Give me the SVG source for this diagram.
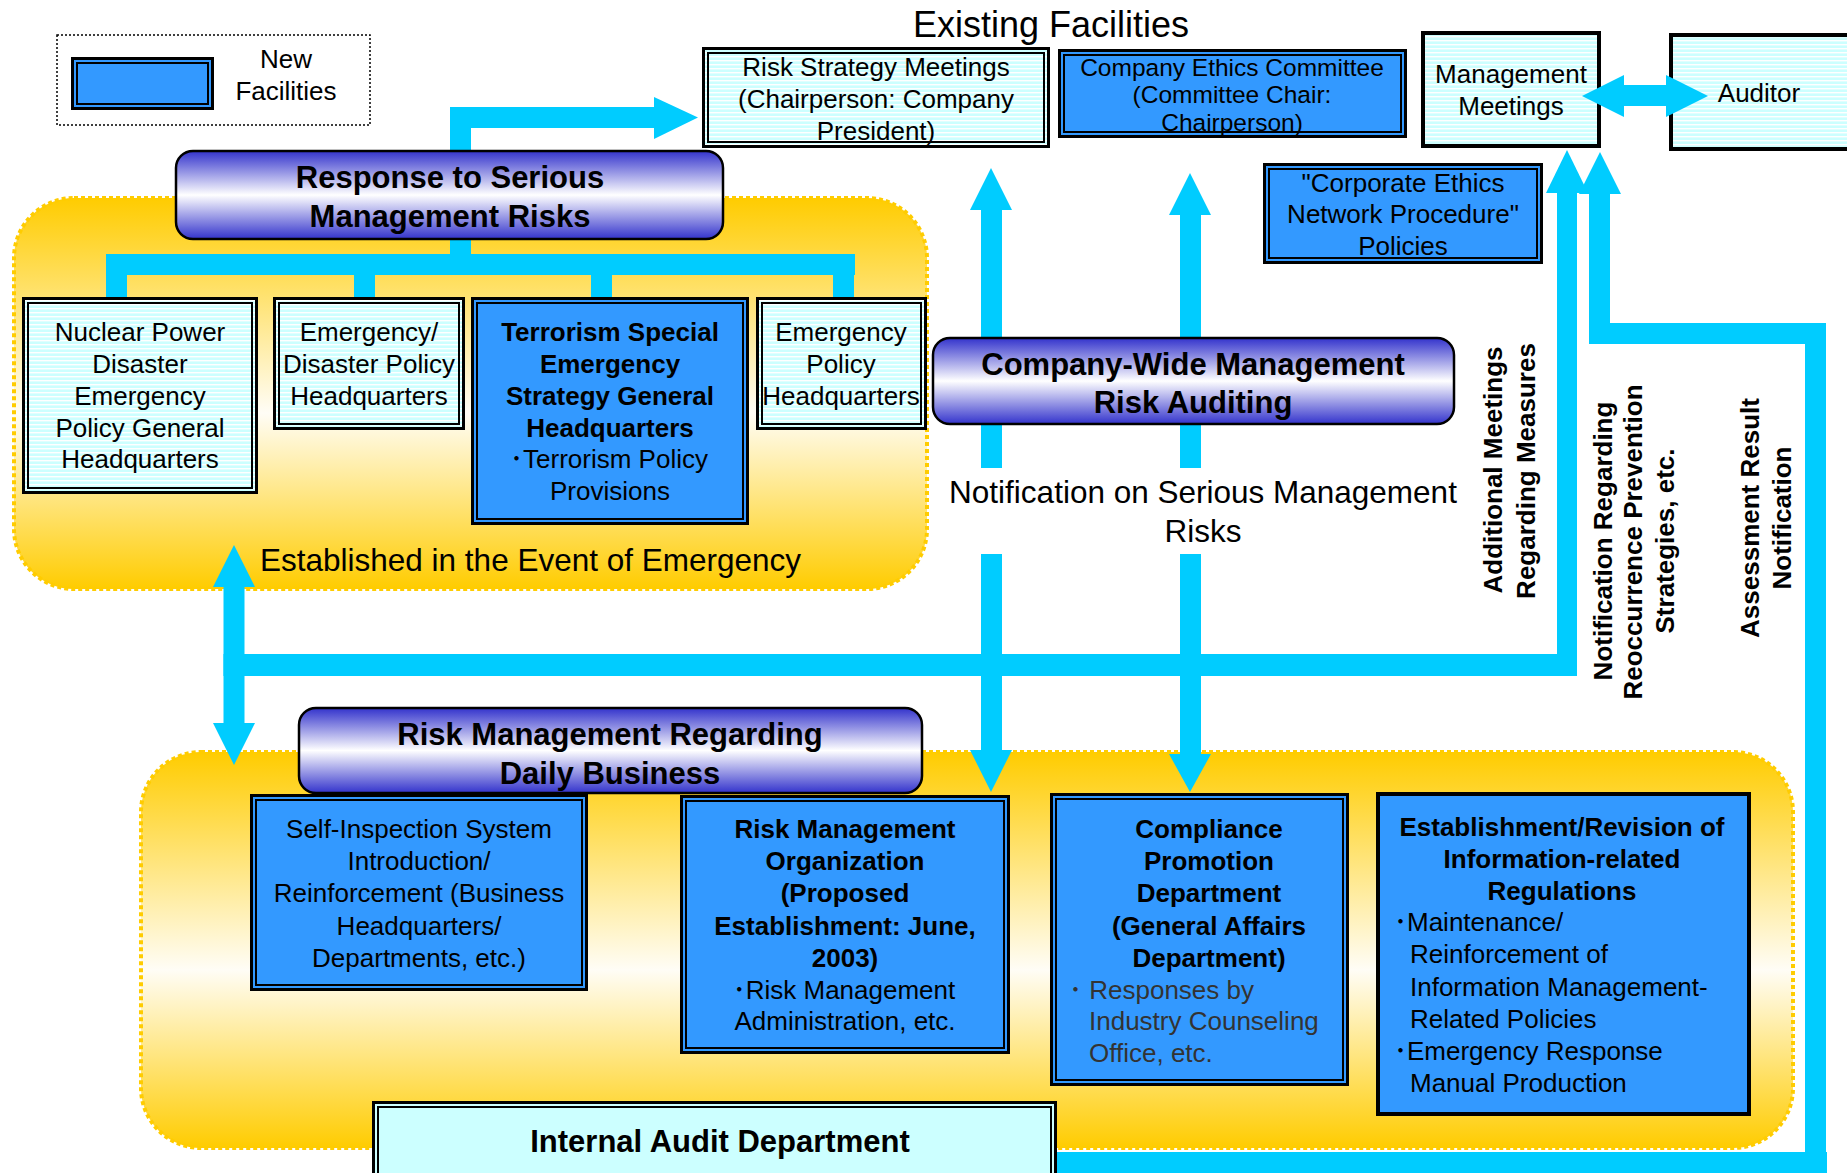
<svg xmlns="http://www.w3.org/2000/svg" width="1847" height="1173" viewBox="0 0 1847 1173">
<defs>
<pattern id="stripes" patternUnits="userSpaceOnUse" width="10" height="4">
<rect width="10" height="4" fill="#CCFFFF"/>
<rect width="10" height="1.4" fill="#FFFFFF"/>
</pattern>
<linearGradient id="banner" x1="0" y1="0" x2="0" y2="1">
<stop offset="0" stop-color="#3333CC"/>
<stop offset="0.5" stop-color="#FFFFFF"/>
<stop offset="1" stop-color="#3333CC"/>
</linearGradient>
<linearGradient id="gold" x1="0" y1="0" x2="0" y2="1">
<stop offset="0" stop-color="#FFCC00"/>
<stop offset="0.55" stop-color="#FFFDF6"/>
<stop offset="1" stop-color="#FFCC00"/>
</linearGradient>
<style>
text{font-family:"Liberation Sans",Arial,"Noto Sans CJK JP",sans-serif;fill:#000;}
.t{font-size:26px;text-anchor:middle;}
.ts{font-size:26px;}
.b{font-size:26px;font-weight:bold;text-anchor:middle;}
.bn{font-size:31px;font-weight:bold;text-anchor:middle;}
.big{font-size:31.5px;}
.vt{font-size:26px;font-weight:bold;text-anchor:middle;}
.tc{font-size:24.5px;text-anchor:middle;}
.gray{fill:#333333;}
.cy{fill:url(#stripes);}
.bl{fill:#3399FF;}
.o{stroke:#000;stroke-width:3;}
.i{fill:none;stroke:#000;stroke-width:2;}
.s4{stroke:#000;stroke-width:4;}
.ban{fill:url(#banner);stroke:#000;stroke-width:2.5;}
.reg{fill:url(#gold);stroke:#FFCC00;stroke-width:4;stroke-dasharray:4 3;}
.c{fill:#00CCFF;}
</style>
</defs>
<rect width="1847" height="1173" fill="#FFFFFF"/>

<!-- regions -->
<g id="region-emergency">
<rect class="reg" x="14" y="198" width="913" height="391" rx="60"/>
</g>
<g id="region-daily">
<rect class="reg" x="141" y="752" width="1652" height="396" rx="60"/>
</g>

<!-- connectors -->
<g id="connectors">
<!-- response banner to risk strategy -->
<rect class="c" x="450" y="107" width="21" height="168"/>
<rect class="c" x="450" y="107" width="204" height="21"/>
<polygon class="c" points="654,97 698,117.5 654,139"/>
<!-- tree to emergency HQs -->
<rect class="c" x="106" y="254" width="749" height="21"/>
<rect class="c" x="106" y="254" width="21" height="45"/>
<rect class="c" x="354" y="254" width="21" height="45"/>
<rect class="c" x="591" y="254" width="21" height="45"/>
<rect class="c" x="833" y="254" width="21" height="45"/>
<!-- vertical two-way arrows through company-wide auditing -->
<polygon class="c" points="970,210 1012,210 991,168"/>
<rect class="c" x="981" y="209" width="21" height="259"/>
<rect class="c" x="981" y="554" width="21" height="197"/>
<polygon class="c" points="970,750 1012,750 991,792"/>
<polygon class="c" points="1169,215 1211,215 1190,173"/>
<rect class="c" x="1180" y="214" width="21" height="254"/>
<rect class="c" x="1180" y="554" width="21" height="201"/>
<polygon class="c" points="1169,754 1211,754 1190,792"/>
<!-- left double arrow and horizontal bar to management meetings -->
<polygon class="c" points="213,587 255,587 234,545"/>
<rect class="c" x="223.5" y="586" width="21" height="138"/>
<polygon class="c" points="213,723 255,723 234,765"/>
<rect class="c" x="223.5" y="654" width="1353.5" height="22"/>
<rect class="c" x="1557" y="192" width="20" height="484"/>
<polygon class="c" points="1546,193 1588,193 1567,150"/>
<!-- assessment result notification from internal audit -->
<rect class="c" x="1057" y="1152" width="770" height="21"/>
<rect class="c" x="1805" y="323" width="21" height="850"/>
<rect class="c" x="1589" y="323" width="237" height="21"/>
<rect class="c" x="1589" y="193" width="21" height="151"/>
<polygon class="c" points="1579,194 1621,194 1600,152"/>
</g>

<!-- legend -->
<g id="legend">
<rect x="57" y="35" width="313" height="90" fill="none" stroke="#000" stroke-width="1.5" stroke-dasharray="2 2"/>
<rect class="bl o" x="72.5" y="58.5" width="140" height="50"/>
<rect class="i" x="77" y="63" width="131" height="41"/>
<text class="t" x="286" y="68">New</text>
<text class="t" x="286" y="100">Facilities</text>
</g>

<g id="title-existing">
<text x="1051" y="37" style="font-size:36px;text-anchor:middle;">Existing Facilities</text>
</g>

<g id="risk-strategy-meetings">
<rect class="cy o" x="703.5" y="48.5" width="345" height="98"/>
<rect class="i" x="708" y="53" width="336" height="89"/>
<text class="t" x="876" y="76">Risk Strategy Meetings</text>
<text class="t" x="876" y="108">(Chairperson: Company</text>
<text class="t" x="876" y="140">President)</text>
</g>

<g id="company-ethics-committee">
<rect class="bl o" x="1059.5" y="50.5" width="346" height="86"/>
<rect class="i" x="1064" y="55" width="337" height="77"/>
<text class="tc" x="1232" y="75.5">Company Ethics Committee</text>
<text class="tc" x="1232" y="103">(Committee Chair:</text>
<text class="tc" x="1232" y="130.5">Chairperson)</text>
</g>

<g id="management-meetings">
<rect class="cy s4" x="1423" y="33" width="176" height="113"/>
<text class="t" x="1511" y="83">Management</text>
<text class="t" x="1511" y="115">Meetings</text>
</g>

<g id="auditor">
<rect class="cy s4" x="1671" y="35" width="180" height="114"/>
<text class="t" x="1759" y="102">Auditor</text>
</g>

<g id="connector-management-auditor">
<polygon class="c" points="1582,96 1624,75 1624,85 1666,85 1666,75 1708,96 1666,117 1666,106 1624,106 1624,117"/>
</g>

<g id="corporate-ethics-network">
<rect class="bl o" x="1264.5" y="164.5" width="277" height="98"/>
<rect class="i" x="1269" y="169" width="268" height="89"/>
<text class="t" x="1403" y="192">"Corporate Ethics</text>
<text class="t" x="1403" y="223">Network Procedure"</text>
<text class="t" x="1403" y="255">Policies</text>
</g>

<g id="response-serious-risks">
<rect class="ban" x="176" y="151" width="547" height="88" rx="17"/>
<text class="bn" x="450" y="188">Response to Serious</text>
<text class="bn" x="450" y="227">Management Risks</text>
</g>

<g id="nuclear-power-hq">
<rect class="cy o" x="23.5" y="298.5" width="233" height="194"/>
<rect class="i" x="28" y="303" width="224" height="185"/>
<text class="t" x="140" y="341">Nuclear Power</text>
<text class="t" x="140" y="373">Disaster</text>
<text class="t" x="140" y="405">Emergency</text>
<text class="t" x="140" y="437">Policy General</text>
<text class="t" x="140" y="468">Headquarters</text>
</g>

<g id="emergency-disaster-hq">
<rect class="cy o" x="274.5" y="298.5" width="189" height="130"/>
<rect class="i" x="279" y="303" width="180" height="121"/>
<text class="t" x="369" y="341">Emergency/</text>
<text class="t" x="369" y="373">Disaster Policy</text>
<text class="t" x="369" y="405">Headquarters</text>
</g>

<g id="terrorism-hq">
<rect class="bl o" x="472.5" y="298.5" width="275" height="225"/>
<rect class="i" x="477" y="303" width="266" height="216"/>
<text class="b" x="610" y="341">Terrorism Special</text>
<text class="b" x="610" y="373">Emergency</text>
<text class="b" x="610" y="405">Strategy General</text>
<text class="b" x="610" y="437">Headquarters</text>
<text class="t" x="609" y="468">･Terrorism Policy</text>
<text class="t" x="610" y="500">Provisions</text>
</g>

<g id="emergency-policy-hq">
<rect class="cy o" x="757.5" y="298.5" width="168" height="130"/>
<rect class="i" x="762" y="303" width="159" height="121"/>
<text class="t" x="841" y="341">Emergency</text>
<text class="t" x="841" y="373">Policy</text>
<text class="t" x="841" y="405">Headquarters</text>
</g>

<g id="label-emergency">
<text class="big" x="260" y="571">Established in the Event of Emergency</text>
</g>

<g id="company-wide-auditing">
<rect class="ban" x="933" y="338" width="521" height="86" rx="17"/>
<text class="bn" x="1193" y="375">Company-Wide Management</text>
<text class="bn" x="1193" y="413">Risk Auditing</text>
</g>

<g id="label-notification">
<text class="big" x="1203" y="503" text-anchor="middle">Notification on Serious Management</text>
<text class="big" x="1203" y="542" text-anchor="middle">Risks</text>
</g>

<g id="vertical-labels">
<text class="vt" transform="translate(1502,470) rotate(-90)">Additional Meetings</text>
<text class="vt" transform="translate(1535,471) rotate(-90)">Regarding Measures</text>
<text class="vt" transform="translate(1612,541) rotate(-90)">Notification Regarding</text>
<text class="vt" transform="translate(1642,542) rotate(-90)">Reoccurrence Prevention</text>
<text class="vt" transform="translate(1674,541) rotate(-90)">Strategies, etc.</text>
<text class="vt" transform="translate(1759,518) rotate(-90)">Assessment Result</text>
<text class="vt" transform="translate(1791,518) rotate(-90)">Notification</text>
</g>

<g id="daily-business-risk">
<rect class="ban" x="299" y="708" width="623" height="85" rx="17"/>
<text class="bn" x="610" y="745">Risk Management Regarding</text>
<text class="bn" x="610" y="784">Daily Business</text>
</g>

<g id="self-inspection">
<rect class="bl o" x="251.5" y="795.5" width="335" height="194"/>
<rect class="i" x="256" y="800" width="326" height="185"/>
<text class="t" x="419" y="838">Self-Inspection System</text>
<text class="t" x="419" y="870">Introduction/</text>
<text class="t" x="419" y="902">Reinforcement (Business</text>
<text class="t" x="419" y="935">Headquarters/</text>
<text class="t" x="419" y="967">Departments, etc.)</text>
</g>

<g id="risk-management-organization">
<rect class="bl o" x="681.5" y="796.5" width="327" height="256"/>
<rect class="i" x="686" y="801" width="318" height="247"/>
<text class="b" x="845" y="838">Risk Management</text>
<text class="b" x="845" y="870">Organization</text>
<text class="b" x="845" y="902">(Proposed</text>
<text class="b" x="845" y="935">Establishment: June,</text>
<text class="b" x="845" y="967">2003)</text>
<text class="t" x="844" y="999">･Risk Management</text>
<text class="t" x="845" y="1030">Administration, etc.</text>
</g>

<g id="compliance-promotion">
<rect class="bl o" x="1051.5" y="794.5" width="296" height="290"/>
<rect class="i" x="1056" y="799" width="287" height="281"/>
<text class="b" x="1209" y="838">Compliance</text>
<text class="b" x="1209" y="870">Promotion</text>
<text class="b" x="1209" y="902">Department</text>
<text class="b" x="1209" y="935">(General Affairs</text>
<text class="b" x="1209" y="967">Department)</text>
<text class="ts gray" x="1069" y="999">･ Responses by</text>
<text class="ts gray" x="1089" y="1030">Industry Counseling</text>
<text class="ts gray" x="1089" y="1062">Office, etc.</text>
</g>

<g id="information-regulations">
<rect class="bl s4" x="1378" y="794" width="371" height="320"/>
<text class="b" x="1562" y="836">Establishment/Revision of</text>
<text class="b" x="1562" y="868">Information-related</text>
<text class="b" x="1562" y="900">Regulations</text>
<text class="ts" x="1394" y="931">･Maintenance/</text>
<text class="ts" x="1410" y="963">Reinforcement of</text>
<text class="ts" x="1410" y="996">Information Management-</text>
<text class="ts" x="1410" y="1028">Related Policies</text>
<text class="ts" x="1394" y="1060">･Emergency Response</text>
<text class="ts" x="1410" y="1092">Manual Production</text>
</g>

<g id="internal-audit">
<rect class="o" fill="#CCFFFF" x="373.5" y="1102.5" width="682" height="80"/>
<rect class="i" x="378" y="1107" width="673" height="80"/>
<text class="bn" x="720" y="1152">Internal Audit Department</text>
</g>
</svg>
